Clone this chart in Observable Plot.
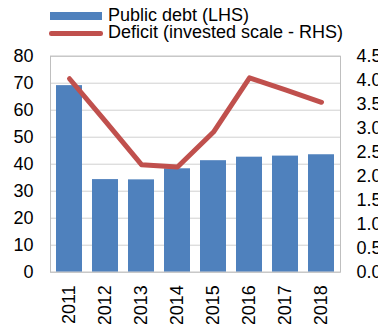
<!DOCTYPE html>
<html>
<head>
<meta charset="utf-8">
<script src="https://cdn.jsdelivr.net/npm/d3@7"></script>
<script src="https://cdn.jsdelivr.net/npm/@observablehq/plot@0.6"></script>
<style>
  html, body { margin: 0; padding: 0; background: #fff; }
  body { font-family: "Liberation Sans", Arial, sans-serif; width: 378px; height: 324px; overflow: hidden; }
  #legend { position: relative; height: 44px; font-size: 18px; color: #000; }
  #legend .row { position: absolute; left: 108px; line-height: 18px; white-space: nowrap; }
  #legend .sw { position: absolute; }
  #chart svg { display: block; font-family: "Liberation Sans", Arial, sans-serif; overflow: hidden; }
</style>
</head>
<body>
<div id="legend"></div>
<div id="chart"></div>
<script>
const years = ["2011", "2012", "2013", "2014", "2015", "2016", "2017", "2018"];
const publicDebt = [69.1, 34.3, 34.2, 38.3, 41.3, 42.6, 43.0, 43.5];
const deficit = [4.03, 3.14, 2.24, 2.19, 2.92, 4.05, 3.80, 3.54];
const leftTicks = [0, 10, 20, 30, 40, 50, 60, 70, 80];
const rightTicks = [0, 0.5, 1.0, 1.5, 2.0, 2.5, 3.0, 3.5, 4.0, 4.5];
const seriesNames = ["Public debt (LHS)", "Deficit (invested scale - RHS)"];
const colors = ["#4f81bd", "#c0504d"];

const leftMax = 80, rightMax = 4.5;
const k = leftMax / rightMax;
const data = years.map((year, i) => ({year, debt: publicDebt[i], deficit: deficit[i]}));

// Legend (HTML, above the SVG)
const legend = document.getElementById("legend");
legend.innerHTML = `
  <div class="sw" style="left:50px;top:11.7px;width:52px;height:8.3px;background:${colors[0]}"></div>
  <div class="row" style="top:5.5px">${seriesNames[0]}</div>
  <div class="sw" style="left:49px;top:31.3px;width:54px;height:4.4px;border-radius:2.2px;background:${colors[1]}"></div>
  <div class="row" style="top:22.8px">${seriesNames[1]}</div>`;

const chart = Plot.plot({
  width: 378,
  height: 280,
  marginTop: 11.7,
  marginBottom: 52.3,
  marginLeft: 50,
  marginRight: 38,
  style: {fontSize: "18px", color: "#000", background: "#fff"},
  x: {domain: years, type: "band", paddingInner: 0.29, paddingOuter: 0.145},
  y: {domain: [0, leftMax]},
  marks: [
    Plot.ruleY(leftTicks, {stroke: "#d0d0d0", strokeWidth: 1}),
    Plot.barY(data, {x: "year", y: "debt", fill: colors[0]}),
    Plot.frame({stroke: "#bfbfbf", strokeWidth: 1}),
    Plot.lineY(data, {x: "year", y: d => d.deficit * k, stroke: colors[1], strokeWidth: 5, strokeLinecap: "round", strokeLinejoin: "round"}),
    Plot.axisY({anchor: "left", ticks: leftTicks, tickSize: 0, tickPadding: 17, label: null, fontSize: 18}),
    Plot.axisY({anchor: "right", ticks: rightTicks.map(v => v * k), tickFormat: v => (v / k).toFixed(1), tickSize: 0, tickPadding: 16, textAnchor: "start", label: null, fontSize: 18}),
    Plot.axisX({anchor: "bottom", tickRotate: -90, tickSize: 0, tickPadding: 13, label: null, fontSize: 18})
  ]
});
document.getElementById("chart").appendChild(chart);
</script>
</body>
</html>
